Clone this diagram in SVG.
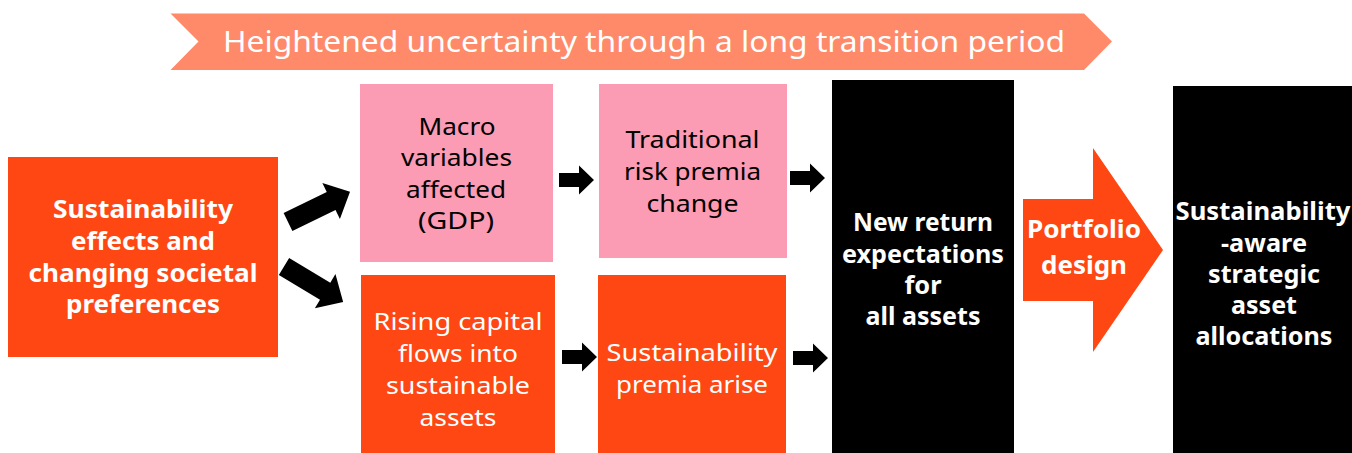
<svg xmlns="http://www.w3.org/2000/svg" width="1352" height="453" viewBox="0 0 1352 453">
<defs>
<style>
.t{font-family:"Noto Sans","Liberation Sans",sans-serif;text-anchor:middle}
.r{font-size:23.5px}
.b{font-size:24.5px;font-weight:bold}
.w{fill:#ffffff}
.k{fill:#000000}
.org{fill:#FE4713}
.pnk{fill:#FC9BB4}
.blk{fill:#000000}
.arr{fill:#000000}
</style>
<path id="sa" d="M0,-7 L20,-7 L20,-14.5 L35,0 L20,14.5 L20,7 L0,7 Z"/>
<path id="ba" d="M0,-10 L48,-10 L48,-20 L69,0 L48,20 L48,10 L0,10 Z"/>
</defs>
<rect width="1352" height="453" fill="#ffffff"/>

<g id="banner">
<polygon points="170.5,13.5 1084,13.5 1112,41.5 1084,70 170.5,70 198.5,41.5" fill="#FF8A69"/>
<text class="t w" x="644" y="52" font-size="29.5" textLength="842" lengthAdjust="spacingAndGlyphs">Heightened uncertainty through a long transition period</text>
</g>

<g id="sustainability-effects">
<rect class="org" x="8" y="157" width="270" height="200"/>
<text class="t b w" x="143" y="218" textLength="180" lengthAdjust="spacingAndGlyphs">Sustainability</text>
<text class="t b w" x="143" y="250" textLength="144" lengthAdjust="spacingAndGlyphs">effects and</text>
<text class="t b w" x="143" y="282" textLength="229" lengthAdjust="spacingAndGlyphs">changing societal</text>
<text class="t b w" x="143" y="313" textLength="154" lengthAdjust="spacingAndGlyphs">preferences</text>
</g>

<g id="macro-variables">
<rect class="pnk" x="360" y="84" width="193" height="178"/>
<text class="t r k" x="457" y="135" textLength="77" lengthAdjust="spacingAndGlyphs">Macro</text>
<text class="t r k" x="456.5" y="166" textLength="111" lengthAdjust="spacingAndGlyphs">variables</text>
<text class="t r k" x="456" y="198" textLength="100" lengthAdjust="spacingAndGlyphs">affected</text>
<text class="t r k" x="456" y="229" textLength="76" lengthAdjust="spacingAndGlyphs">(GDP)</text>
</g>

<g id="traditional-risk-premia">
<rect class="pnk" x="599" y="84" width="188" height="174"/>
<text class="t r k" x="692.5" y="148" textLength="134" lengthAdjust="spacingAndGlyphs">Traditional</text>
<text class="t r k" x="692.5" y="180" textLength="137" lengthAdjust="spacingAndGlyphs">risk premia</text>
<text class="t r k" x="692.5" y="212" textLength="92" lengthAdjust="spacingAndGlyphs">change</text>
</g>

<g id="rising-capital-flows">
<rect class="org" x="361" y="275" width="194" height="178"/>
<text class="t r w" x="458" y="330" textLength="169" lengthAdjust="spacingAndGlyphs">Rising capital</text>
<text class="t r w" x="458" y="362" textLength="120" lengthAdjust="spacingAndGlyphs">flows into</text>
<text class="t r w" x="458" y="394" textLength="144" lengthAdjust="spacingAndGlyphs">sustainable</text>
<text class="t r w" x="458" y="426" textLength="77" lengthAdjust="spacingAndGlyphs">assets</text>
</g>

<g id="sustainability-premia">
<rect class="org" x="598" y="275" width="188" height="178"/>
<text class="t r w" x="692" y="361" textLength="171" lengthAdjust="spacingAndGlyphs">Sustainability</text>
<text class="t r w" x="692" y="393" textLength="152" lengthAdjust="spacingAndGlyphs">premia arise</text>
</g>

<g id="new-return-expectations">
<rect class="blk" x="832" y="80" width="182" height="373"/>
<text class="t b w" x="923" y="231" textLength="140" lengthAdjust="spacingAndGlyphs">New return</text>
<text class="t b w" x="923" y="263" textLength="162" lengthAdjust="spacingAndGlyphs">expectations</text>
<text class="t b w" x="923" y="294" textLength="37" lengthAdjust="spacingAndGlyphs">for</text>
<text class="t b w" x="923" y="325" textLength="115" lengthAdjust="spacingAndGlyphs">all assets</text>
</g>

<g id="portfolio-design">
<polygon class="org" points="1023,199 1093,199 1093,148 1163,250 1093,352 1093,301 1023,301"/>
<text class="t b w" x="1084" y="238" textLength="114" lengthAdjust="spacingAndGlyphs">Portfolio</text>
<text class="t b w" x="1084" y="274" textLength="86" lengthAdjust="spacingAndGlyphs">design</text>
</g>

<g id="strategic-asset-allocations">
<rect class="blk" x="1173" y="86" width="179" height="367"/>
<text class="t b w" x="1263" y="220" textLength="175" lengthAdjust="spacingAndGlyphs">Sustainability</text>
<text class="t b w" x="1264" y="252" textLength="86" lengthAdjust="spacingAndGlyphs">-aware</text>
<text class="t b w" x="1264" y="283" textLength="112" lengthAdjust="spacingAndGlyphs">strategic</text>
<text class="t b w" x="1264" y="314" textLength="66" lengthAdjust="spacingAndGlyphs">asset</text>
<text class="t b w" x="1264" y="345" textLength="137" lengthAdjust="spacingAndGlyphs">allocations</text>
</g>

<g id="connectors" class="arr">
<use href="#ba" transform="translate(288,222) rotate(-26)"/>
<use href="#ba" transform="translate(284,266.5) rotate(31)"/>
<use href="#sa" transform="translate(559,180)"/>
<use href="#sa" transform="translate(790,178)"/>
<use href="#sa" transform="translate(562,357)"/>
<use href="#sa" transform="translate(793,358)"/>
</g>
</svg>
